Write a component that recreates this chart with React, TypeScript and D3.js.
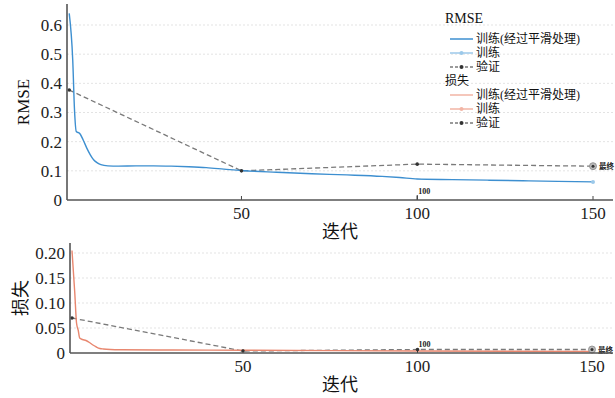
import React from "react";
import * as d3 from "d3";

const rmseIters = [1, 2, 2.5, 3, 4, 5, 6, 7, 8, 9, 10, 12, 15, 20, 25, 30, 35, 40, 45, 50, 60, 70, 80, 90, 95, 100, 110, 120, 130, 140, 150];
const rmseSmooth = [0.64, 0.48, 0.31, 0.235, 0.228, 0.205, 0.178, 0.155, 0.137, 0.127, 0.121, 0.117, 0.116, 0.117, 0.117, 0.116, 0.114, 0.111, 0.106, 0.101, 0.095, 0.09, 0.086, 0.081, 0.077, 0.072, 0.07, 0.068, 0.066, 0.064, 0.062];
const valIters = [1, 50, 100, 150];
const rmseVal = [0.377, 0.1, 0.123, 0.116];

const lossIters = [1, 1.8, 2.3, 2.8, 3.2, 4, 5, 6, 7, 8, 9, 10, 12, 15, 30, 50, 100, 150];
const lossSmooth = [0.205, 0.12, 0.06, 0.045, 0.03, 0.027, 0.025, 0.021, 0.016, 0.012, 0.009, 0.008, 0.007, 0.0065, 0.006, 0.0055, 0.004, 0.003];
const lossVal = [0.07, 0.004, 0.007, 0.007];

const xTicks = [50, 100, 150];
const rmseTicks = [0, 0.1, 0.2, 0.3, 0.4, 0.5, 0.6];
const lossTicks = [0, 0.05, 0.1, 0.15, 0.2];

const SERIF = "Liberation Serif, Noto Sans CJK SC, serif";

const BLUE = "#3d8fd0";
const BLUE_L = "#9cc9ea";
const ORANGE = "#e8876f";
const ORANGE_L = "#f2b5a5";
const GRAY = "#7a7a7a";

type PanelProps = {
  x: d3.ScaleLinear<number, number>;
  y: d3.ScaleLinear<number, number>;
  left: number;
  right: number;
  top: number;
  bottom: number;
  ticks: number[];
  fmt: (v: number) => string;
  smoothIters: number[];
  smooth: number[];
  val: number[];
  color: string;
  colorL: string;
  ylabel: string;
  ylabelX: number;
  ylabelSize: number;
  annY: number;
};

function Panel(p: PanelProps) {
  const line = d3
    .line<[number, number]>()
    .x((d) => p.x(d[0]))
    .y((d) => p.y(d[1]))
    .curve(d3.curveMonotoneX);
  const sm: [number, number][] = p.smoothIters.map((it, i) => [it, p.smooth[i]]);
  const va: [number, number][] = valIters.map((it, i) => [it, p.val[i]]);
  const lin = d3.line<[number, number]>().x((d) => p.x(d[0])).y((d) => p.y(d[1]));
  const lastI = p.smoothIters[p.smoothIters.length - 1];
  const lastV = p.smooth[p.smooth.length - 1];
  const vLastI = valIters[valIters.length - 1];
  const vLastV = p.val[p.val.length - 1];
  const midY = (p.top + p.bottom) / 2;
  return (
    <g>
      {p.ticks.filter((t) => t > 0).map((t) => (
        <line key={t} x1={p.left} x2={p.right} y1={p.y(t)} y2={p.y(t)} stroke="#dcdcdc" strokeWidth={0.8} strokeDasharray="2,2" />
      ))}
      {p.ticks.map((t) => (
        <text key={t} x={p.left - 5} y={p.y(t)} dy="0.35em" textAnchor="end" fontFamily={SERIF} fontSize={17} fill="#222">
          {p.fmt(t)}
        </text>
      ))}
      {xTicks.map((t) => (
        <g key={t}>
          <line x1={p.x(t)} x2={p.x(t)} y1={p.bottom} y2={p.bottom - 4} stroke="#444" strokeWidth={1} />
          <text x={p.x(t)} y={p.bottom + 19} textAnchor="middle" fontFamily={SERIF} fontSize={17} fill="#222">
            {t}
          </text>
        </g>
      ))}
      <path d={lin(va) || ""} fill="none" stroke={GRAY} strokeWidth={1.3} strokeDasharray="5,3" />
      <path d={line(sm) || ""} fill="none" stroke={p.color} strokeWidth={1.4} />
      <circle cx={p.x(lastI)} cy={p.y(lastV)} r={2} fill={p.colorL} />
      {va.map((d, i) => (
        <circle key={i} cx={p.x(d[0])} cy={p.y(d[1])} r={1.8} fill="#333" />
      ))}
      <circle cx={p.x(vLastI)} cy={p.y(vLastV)} r={3.5} fill="#bbb" stroke="#888" strokeWidth={0.8} />
      <circle cx={p.x(vLastI)} cy={p.y(vLastV)} r={1.5} fill="#333" />
      <text x={p.x(vLastI) + 6} y={p.y(vLastV) + 3} fontFamily={SERIF} fontSize={7.5} fontWeight="bold" fill="#222">
        最终
      </text>
      <line x1={p.x(100)} x2={p.x(100)} y1={p.annY + 1} y2={p.annY + 6} stroke="#333" strokeWidth={1} />
      <text x={p.x(100) + 1} y={p.annY} fontFamily={SERIF} fontSize={8} fontWeight="bold" fill="#222">
        100
      </text>
      <line x1={p.left} x2={p.left} y1={p.top} y2={p.bottom} stroke="#555" strokeWidth={1.6} />
      <line x1={p.left} x2={p.right} y1={p.bottom} y2={p.bottom} stroke="#555" strokeWidth={1.6} />
      <text x={340} y={p.bottom + 38} textAnchor="middle" fontFamily={SERIF} fontSize={18} fill="#111">
        迭代
      </text>
      <text
        transform={`translate(${p.ylabelX},${midY}) rotate(-90)`}
        textAnchor="middle"
        dy="0.35em"
        fontFamily={SERIF}
        fontSize={p.ylabelSize}
        fill="#111"
      >
        {p.ylabel}
      </text>
    </g>
  );
}

function LegendRow({ y, color, dashed, dot, label }: { y: number; color: string; dashed?: boolean; dot?: string; label: string }) {
  return (
    <g>
      <line x1={450} x2={473} y1={y} y2={y} stroke={color} strokeWidth={1.5} strokeDasharray={dashed ? "3,2" : undefined} />
      {dot && <circle cx={461.5} cy={y} r={2} fill={dot} />}
      <text x={476} y={y} dy="0.36em" fontFamily={SERIF} fontSize={12} fill="#111">
        {label}
      </text>
    </g>
  );
}

export default function App() {
  const xTop = d3.scaleLinear().domain([0, 150]).range([65.7, 593]);
  const yTop = d3.scaleLinear().domain([0, 0.6]).range([200, 25]);
  const xBot = d3.scaleLinear().domain([0, 150]).range([68.5, 592]);
  const yBot = d3.scaleLinear().domain([0, 0.2]).range([353, 253]);
  return (
    <svg width={615} height={398} style={{ position: "absolute", left: 0, top: 0, background: "#fff" }}>
      <Panel
        x={xTop}
        y={yTop}
        left={67}
        right={613}
        top={4}
        bottom={200}
        ticks={rmseTicks}
        fmt={(v) => (v === 0 ? "0" : d3.format(".1f")(v))}
        smoothIters={rmseIters}
        smooth={rmseSmooth}
        val={rmseVal}
        color={BLUE}
        colorL={BLUE_L}
        ylabel="RMSE"
        ylabelX={23}
        ylabelSize={17}
        annY={194}
      />
      <Panel
        x={xBot}
        y={yBot}
        left={70}
        right={613}
        top={243}
        bottom={353}
        ticks={lossTicks}
        fmt={(v) => (v === 0 ? "0" : d3.format(".2f")(v))}
        smoothIters={lossIters}
        smooth={lossSmooth}
        val={lossVal}
        color={ORANGE}
        colorL={ORANGE_L}
        ylabel="损失"
        ylabelX={21}
        ylabelSize={18}
        annY={347}
      />
      <text x={445} y={23} fontFamily={SERIF} fontSize={14} fill="#111">RMSE</text>
      <LegendRow y={39} color={BLUE} label="训练(经过平滑处理)" />
      <LegendRow y={53} color={BLUE_L} dot={BLUE_L} label="训练" />
      <LegendRow y={67} color={GRAY} dashed dot="#333" label="验证" />
      <text x={445} y={81} dy="0.36em" fontFamily={SERIF} fontSize={12} fill="#111">损失</text>
      <LegendRow y={95} color={ORANGE_L} label="训练(经过平滑处理)" />
      <LegendRow y={109} color={ORANGE_L} dot={ORANGE_L} label="训练" />
      <LegendRow y={123} color={GRAY} dashed dot="#333" label="验证" />
    </svg>
  );
}
